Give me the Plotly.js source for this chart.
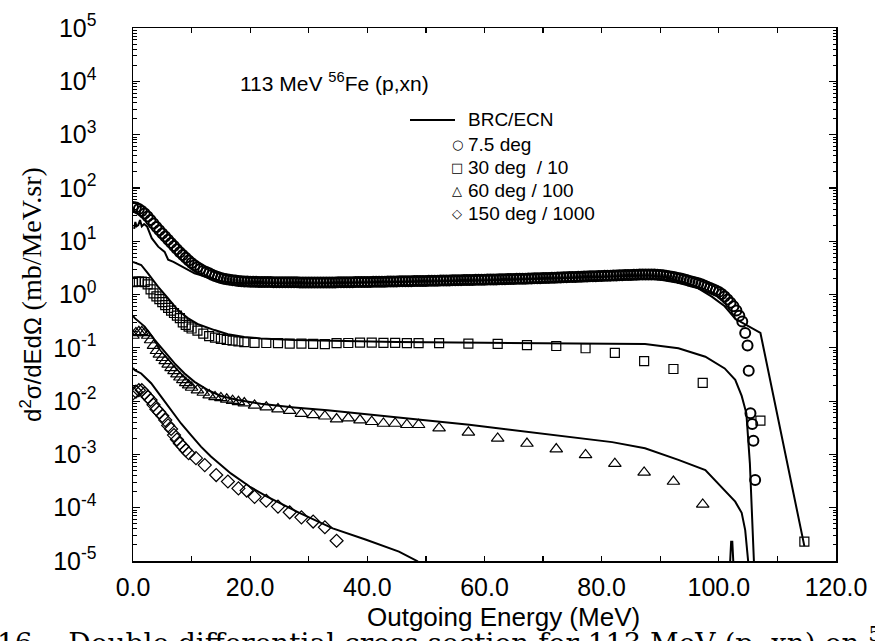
<!DOCTYPE html>
<html>
<head>
<meta charset="utf-8">
<script src="https://cdn.plot.ly/plotly-3.0.1.min.js"></script>
<style>html,body{margin:0;padding:0;background:#fff}#chart{width:875px;height:641px}</style>
</head>
<body>
<div id="chart"></div>
<script>
// ---- 7.5 deg data (circles) ----
const e75 = [0,0.5,1,1.5,2,2.5,3,3.5,4,4.5,5,5.5,6,6.5,7,7.5,8,8.5,9,9.5,
10,10.5,11,11.5,12,12.5,13,13.5,14,14.5,15,15.5,16,16.5,17,17.5,18,18.5,19,19.5,
20,20.5,21,21.5,22,22.5,23,23.5,24,24.5,25,25.5,26,26.5,27,27.5,28,28.5,29,29.5,
30,30.5,31,31.5,32,32.5,33,33.5,34,34.5,35,35.5,36,36.5,37,37.5,38,38.5,39,39.5,
40,40.5,41,41.5,42,42.5,43,43.5,44,44.5,45,45.5,46,46.5,47,47.5,48,48.5,49,49.5,
50,50.5,51,51.5,52,52.5,53,53.5,54,54.5,55,55.5,56,56.5,57,57.5,58,58.5,59,59.5,
60,60.5,61,61.5,62,62.5,63,63.5,64,64.5,65,65.5,66,66.5,67,67.5,68,68.5,69,69.5,
70,70.5,71,71.5,72,72.5,73,73.5,74,74.5,75,75.5,76,76.5,77,77.5,78,78.5,79,79.5,
80,80.5,81,81.5,82,82.5,83,83.5,84,84.5,85,85.5,86,86.5,87,87.5,88,88.5,89,89.5,
90,90.5,91,91.5,92,92.5,93,93.5,94,94.5,95,95.5,96,96.5,97,97.5,98,98.5,99,99.5,
100,100.5,101,101.5,102,102.5,103,103.5,104,
104.5,104.9,105.1,105.4,105.7,105.9,106.2];
const v75 = [44,43,40,37,33,29,25,21.5,18.5,16,14,12.2,10.6,9.3,8.1,7.1,6.2,5.5,4.9,4.35,
3.9,3.55,3.25,3.0,2.8,2.65,2.5,2.35,2.22,2.12,2.04,1.98,1.94,1.9,1.86,1.83,1.8,1.78,1.76,1.75,
1.74,1.73,1.73,1.72,1.72,1.71,1.71,1.71,1.70,1.70,1.70,1.70,1.69,1.69,1.69,1.69,1.69,1.68,1.68,1.68,
1.68,1.68,1.68,1.68,1.68,1.68,1.68,1.68,1.68,1.68,1.69,1.69,1.69,1.70,1.70,1.70,1.71,1.71,1.71,1.72,
1.72,1.72,1.73,1.73,1.73,1.74,1.74,1.75,1.75,1.76,1.76,1.77,1.77,1.78,1.78,1.78,1.79,1.79,1.79,1.80,
1.80,1.81,1.81,1.82,1.82,1.83,1.83,1.84,1.84,1.85,1.85,1.86,1.86,1.87,1.87,1.88,1.88,1.89,1.89,1.90,
1.90,1.91,1.91,1.92,1.92,1.93,1.93,1.94,1.95,1.95,1.96,1.97,1.97,1.98,1.98,1.99,2.00,2.01,2.01,2.02,
2.03,2.04,2.05,2.06,2.07,2.08,2.09,2.10,2.11,2.12,2.13,2.14,2.15,2.16,2.17,2.18,2.19,2.20,2.21,2.22,
2.23,2.24,2.25,2.26,2.27,2.28,2.29,2.30,2.31,2.32,2.33,2.34,2.35,2.36,2.37,2.38,2.38,2.38,2.37,2.35,
2.33,2.29,2.25,2.20,2.15,2.10,2.05,1.99,1.93,1.87,1.80,1.74,1.68,1.62,1.55,1.48,1.40,1.33,1.26,1.19,
1.12,1.02,0.92,0.81,0.70,0.60,0.50,0.40,0.31,
0.19,0.11,0.037,0.0059,0.0037,0.0018,0.00033];

// ---- 30 deg / 10 (squares) ----
const e30 = [0,0.5,1,1.5,2,2.5,3,3.5,4,4.5,5,5.5,6,6.5,7,7.5,8,8.5,9,9.5,10,
11,12,13,14,15,16,17,18,19,
20.75,22.75,24.75,26.75,28.75,30.75,32.75,34.75,36.75,38.75,40.75,42.75,44.75,46.75,48.75,
52.25,57.25,62.25,67.25,72.25,77.25,82.25,87.25,92.25,97.25,107.1,114.6];
const v30 = [1.7,1.75,1.75,1.75,1.7,1.55,1.25,1.05,0.92,0.82,0.72,0.63,0.56,0.5,0.45,0.4,0.36,0.3,0.27,0.25,0.23,
0.21,0.185,0.165,0.155,0.147,0.14,0.136,0.132,0.128,
0.124,0.123,0.122,0.12,0.12,0.118,0.117,0.122,0.123,0.125,0.125,0.124,0.124,0.122,0.122,
0.122,0.12,0.118,0.112,0.108,0.098,0.08,0.056,0.04,0.022,0.0043,0.000023];

// ---- 60 deg / 100 (triangles) ----
const e60 = [0,0.5,1,1.5,2,2.5,3,3.5,4,4.5,5,5.5,6,6.5,7,7.5,8,8.5,9,9.5,10,
11,12,13,14,15,16,17,18,19,
20.75,22.75,24.75,26.75,28.75,30.75,32.75,34.75,36.75,38.75,40.75,42.75,44.75,46.75,48.75,
52.25,57.25,62.25,67.25,72.25,77.25,82.25,87.25,92.25,97.25];
const v60 = [0.17,0.19,0.2,0.2,0.19,0.17,0.14,0.11,0.088,0.075,0.065,0.057,0.049,0.042,0.037,0.032,0.028,0.025,0.022,0.02,0.018,
0.016,0.0145,0.013,0.012,0.0115,0.0108,0.0102,0.0097,0.0092,
0.0083,0.0077,0.0071,0.0066,0.0058,0.0055,0.0052,0.0046,0.0048,0.0044,0.0041,0.0038,0.0038,0.0036,0.0036,
0.0031,0.0026,0.002,0.0016,0.00126,0.00098,0.00067,0.00046,0.00031,0.000115];

// ---- 150 deg / 1000 (diamonds) ----
const e150 = [0,0.5,1,1.5,2,2.5,3,3.5,4,4.5,5,5.5,6,6.5,7,7.5,8,8.5,9,9.5,
10.75,12.25,14.2,16.2,18.0,19.4,20.75,22.75,24.75,26.75,28.75,30.75,32.75,34.75];
const v150 = [0.014,0.015,0.016,0.016,0.014,0.012,0.0105,0.0085,0.007,0.0062,0.0053,0.0044,0.0035,0.003,0.0023,0.0019,0.0016,0.0014,0.0012,0.00105,
0.00085,0.00063,0.00041,0.00031,0.00023,0.00021,0.00016,0.000135,0.000105,0.000082,0.000066,0.000055,0.000043,0.000024];

// ---- BRC/ECN calculations (lines) ----
const c75E = [0.2,0.4,0.6,0.9,1.2,1.5,1.9,2.4,3.2,4.3,5.4,6.0,6.9,8.6,10.5,12.8,15,17.3,20,30,40,50,60,70,80,85,88,91,94,96,98.8,101,102.8,107.1,114.6];
const c75V = [17,23,19,20,25,19,21,19,11.4,7.9,6.3,4.5,4.1,3.3,2.5,2.1,1.8,1.66,1.62,1.6,1.66,1.74,1.84,1.97,2.14,2.24,2.27,2.1,1.7,1.4,0.91,0.6,0.35,0.19,0.000019];
const c30E = [0,1.4,2.55,4.26,5.96,7.66,9.36,11,13.9,16.2,19,21.8,27.5,33.2,45,60,76,87.4,93.1,97.7,101,102.8,103.9,104.7,105.3,105.7,106.0,106.1];
const c30V = [4.07,3.58,2.5,1.4,0.85,0.51,0.36,0.28,0.215,0.18,0.16,0.15,0.14,0.135,0.128,0.124,0.12,0.118,0.098,0.068,0.041,0.025,0.0125,0.0059,0.00068,0.00008,0.00001,0.000005];
const c60E = [0,0.3,2.0,3.7,5.4,7.1,8.8,10.5,12.8,15,17.9,21.8,27.5,33.2,57.4,76.1,81.8,87.4,93.1,97.7,101.1,102.8,103.9,104.5,105.0,105.1];
const c60V = [0.4,0.36,0.25,0.14,0.085,0.051,0.033,0.023,0.016,0.0125,0.0105,0.0089,0.0076,0.0067,0.0036,0.002,0.0017,0.0013,0.00079,0.00051,0.00021,0.00013,0.00008,0.000038,0.00001,0.000005];
const c150E = [0,0.3,1.4,3.1,4.8,6.5,8.2,9.9,11.6,13.3,15.0,16.7,19.9,22.8,28.4,34.1,39.8,45.4,48.5,49.5,null,101.8,102.1,102.3,102.6];
const c150V = [0.042,0.038,0.033,0.0216,0.0121,0.0068,0.0038,0.0023,0.0014,0.00091,0.00063,0.00044,0.00025,0.000163,0.00008,0.000041,0.000025,0.000015,0.00001,0.000008,null,0.000005,0.000023,0.000023,0.000005];

// ---- ticks & labels ----
const xTickVals = [0,20,40,60,80,100,120];
const xTickText = ['0.0','20.0','40.0','60.0','80.0','100.0','120.0'];
const xMinorVals = [10,30,50,70,90,110];
const yTickVals = [1e-5,1e-4,1e-3,1e-2,1e-1,1,10,100,1000,1e4,1e5];
const yTickText = ['10<sup>-5</sup>','10<sup>-4</sup>','10<sup>-3</sup>','10<sup>-2</sup>','10<sup>-1</sup>','10<sup>0</sup>','10<sup>1</sup>','10<sup>2</sup>','10<sup>3</sup>','10<sup>4</sup>','10<sup>5</sup>'];
const xTitle = 'Outgoing Energy (MeV)';
const legendLine = 'BRC/ECN';
const legendNames = ['7.5 deg','30 deg  / 10','60 deg / 100','150 deg / 1000'];
const legendGlyphs = ['\u25CB','\u25A1','\u25B3','\u25C7'];

const SANS = 'Liberation Sans, Arial, sans-serif';
const lineStyle = {color:'black', width:2};

const traces = [
  {x:c75E, y:c75V, mode:'lines', line:lineStyle, name:legendLine},
  {x:c30E, y:c30V, mode:'lines', line:lineStyle, name:legendLine},
  {x:c60E, y:c60V, mode:'lines', line:lineStyle, name:legendLine},
  {x:c150E, y:c150V, mode:'lines', line:lineStyle, name:legendLine, connectgaps:false},
  {x:e75, y:v75, mode:'markers', name:legendNames[0],
   marker:{symbol:'circle-open', size:10, color:'black', line:{width:2}}},
  {x:e30, y:v30, mode:'markers', name:legendNames[1],
   marker:{symbol:'square-open', size:9, color:'black', line:{width:1.2}}},
  {x:e60, y:v60, mode:'markers', name:legendNames[2],
   marker:{symbol:'triangle-up-open', size:11, color:'black', line:{width:1.2}}},
  {x:e150, y:v150, mode:'markers', name:legendNames[3],
   marker:{symbol:'diamond-open', size:10, color:'black', line:{width:1.2}}}
];

// legend drawn as text next to the plot's own axes (paper coordinates)
const legX0 = (410-133)/703, legX1 = (455-133)/703, legGlyphX = (457-133)/703, legTextX = (466-133)/703;
const legRows = [120,144.5,168,191,213.5].map(p => (561-p)/533);

const annotations = [
  {xref:'paper', yref:'paper', x:0.149, y:0.899, xanchor:'left', yanchor:'middle', showarrow:false,
   text:'113 MeV <sup>56</sup>Fe (p,xn)', font:{family:SANS, size:21, color:'black'}},
  {xref:'paper', yref:'paper', x:(503.5-133)/703, y:(561-617)/533, xanchor:'center', yanchor:'middle', showarrow:false,
   text:xTitle, font:{family:SANS, size:26, color:'black'}},
  {xref:'paper', yref:'paper', x:legTextX, y:legRows[0], xanchor:'left', yanchor:'middle', showarrow:false,
   text:legendLine, font:{family:SANS, size:19, color:'black'}},
  {xref:'paper', yref:'paper', x:-0.196, y:-0.113, xanchor:'left', yanchor:'top', showarrow:false,
   text:'16.\u00A0\u00A0 Double differential cross section for 113 MeV (p, xn) on <sup>56</sup>Fe',
   font:{family:'DejaVu Serif, Liberation Serif, serif', size:28, color:'black'}}
];
legendNames.forEach((n,i) => {
  annotations.push({xref:'paper', yref:'paper', x:legGlyphX, y:legRows[i+1], xanchor:'center', yanchor:'middle', showarrow:false,
    text:legendGlyphs[i], font:{family:'DejaVu Sans, sans-serif', size:13, color:'black'}});
  annotations.push({xref:'paper', yref:'paper', x:legTextX, y:legRows[i+1], xanchor:'left', yanchor:'middle', showarrow:false,
    text:n, font:{family:SANS, size:19, color:'black'}});
});

const layout = {
  width:875, height:641,
  margin:{l:133, r:39, t:28, b:80},
  paper_bgcolor:'white', plot_bgcolor:'white',
  font:{family:SANS, color:'black'},
  showlegend:false,
  xaxis:{range:[0,120], showgrid:false, zeroline:false, showline:true, linecolor:'black', linewidth:1.5,
         mirror:'allticks', ticks:'inside', ticklen:5, tickwidth:1.2, tickcolor:'black',
         tickmode:'array', tickvals:xTickVals, ticktext:xTickText,
         minor:{tickmode:'array', tickvals:xMinorVals, ticks:'inside', ticklen:5, tickwidth:1.2, tickcolor:'black', showgrid:false},
         tickfont:{family:SANS, size:25, color:'black'}, ticklabelstandoff:3},
  yaxis:{type:'log', range:[-5,5], showgrid:false, zeroline:false, showline:true, linecolor:'black', linewidth:1.5,
         mirror:'allticks', ticks:'inside', ticklen:7, tickwidth:1.2, tickcolor:'black',
         tickmode:'array', tickvals:yTickVals, ticktext:yTickText,
         minor:{dtick:'D1', ticks:'inside', ticklen:3.5, tickwidth:1, tickcolor:'black', showgrid:false},
         tickfont:{family:SANS, size:25, color:'black'}, ticklabelstandoff:30,
         title:{text:'d<sup>2</sup>σ/dEdΩ <span style="font-family:Liberation Serif, Times New Roman, serif;font-size:28px">(mb/MeV.sr)</span>',
                font:{family:SANS, size:24, color:'black'}, standoff:4}},
  shapes:[
    {type:'line', xref:'paper', yref:'paper', x0:legX0, x1:legX1, y0:legRows[0], y1:legRows[0], line:{color:'black', width:2}}
  ],
  annotations:annotations
};

Plotly.newPlot('chart', traces, layout, {displayModeBar:false, staticPlot:true});
</script>
</body>
</html>
